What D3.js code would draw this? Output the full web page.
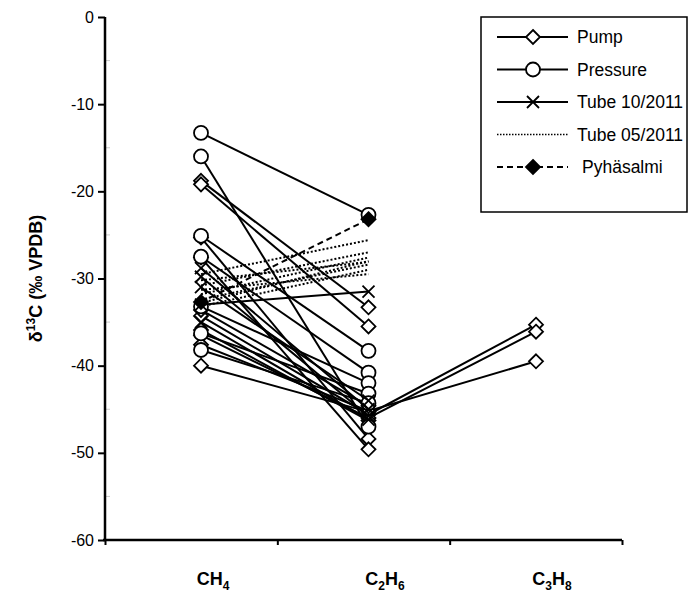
<!DOCTYPE html>
<html>
<head>
<meta charset="utf-8">
<script src="https://cdn.jsdelivr.net/npm/d3@7"></script>
<style>
  body { margin: 0; background: #fff; }
  svg { display: block; font-family: "Liberation Sans", Arial, sans-serif; }
</style>
</head>
<body>
<div id="chart"></div>
<script>
const width = 689, height = 592;

// categories (x) and y ticks
const categories = ["CH4", "C2H6", "C3H8"];
const yTicks = [0, -10, -20, -30, -40, -50, -60];

// series values: [CH4, C2H6, C3H8]
const pump = [
  [-18.8, -33.3, null],
  [-19.2, -35.5, null],
  [-25.3, -48.4, null],
  [-27.6, -49.6, null],
  [-40.0, -45.3, null],
  [-34.3, -45.6, -35.3],
  [-36.5, -46.0, -36.1],
  [-37.6, -45.2, -39.5],
  [-33.6, -44.6, null],
  [-35.9, -46.3, null]
];
const pressure = [
  [-13.3, -22.7, null],
  [-16.0, -47.0, null],
  [-25.1, -38.3, null],
  [-27.5, -40.8, null],
  [-33.2, -42.0, null],
  [-36.3, -43.2, null],
  [-38.2, -44.3, null]
];
const tube1011 = [
  [-33.0, -31.5, null],
  [-28.8, -45.0, null],
  [-31.0, -44.0, null],
  [-29.8, -45.8, null],
  [-35.0, -46.2, null]
];
const tube0511 = [
  [-29.5, -25.6, null],
  [-30.8, -27.0, null],
  [-31.8, -27.6, null],
  [-30.2, -28.1, null],
  [-32.4, -28.4, null],
  [-33.2, -29.0, null],
  [-31.3, -29.5, null],
  [-32.8, -28.0, null]
];
const pyhasalmi = [
  [-32.7, -23.2, null]
];

const legendNames = ["Pump", "Pressure", "Tube 10/2011", "Tube 05/2011", "Pyhäsalmi"];

const svg = d3.select("#chart").append("svg")
  .attr("width", width)
  .attr("height", height);

svg.append("rect").attr("width", width).attr("height", height).attr("fill", "#fff");

// scales
const x = d3.scalePoint().domain(categories).range([201, 536]);
const xEdge = d3.scaleLinear().domain([0, 3]).range([105, 622]);
const y = d3.scaleLinear().domain([-60, 0]).range([540, 17]);

// minor ticks on y
svg.append("g")
  .selectAll("line")
  .data(d3.range(-55, 0, 10))
  .join("line")
  .attr("x1", 105).attr("x2", 110)
  .attr("y1", d => y(d)).attr("y2", d => y(d))
  .attr("stroke", "#ccc");

// y axis
const yAxis = svg.append("g")
  .attr("transform", "translate(105,0)")
  .call(d3.axisLeft(y).tickValues(yTicks).tickSize(7).tickPadding(4).tickFormat(d => String(d)));
yAxis.select(".domain").attr("stroke-width", 2.5).attr("d", `M0,${y(0)}V${y(-60)}`);
yAxis.selectAll(".tick line").attr("stroke-width", 2);
yAxis.selectAll(".tick text").attr("font-size", 16).attr("font-family", "Liberation Sans, Arial, sans-serif").attr("fill", "#000");

// x axis (ticks at category boundaries)
const xAxis = svg.append("g")
  .attr("transform", "translate(0,540)")
  .call(d3.axisBottom(xEdge).tickValues([0, 1, 2, 3]).tickSize(5).tickFormat(""));
xAxis.select(".domain").attr("stroke-width", 2.5).attr("d", "M103,0H622");
xAxis.selectAll(".tick line").attr("stroke-width", 2);

// category labels with subscripts
const labelParts = {
  CH4: [["CH", 0], ["4", 1]],
  C2H6: [["C", 0], ["2", 1], ["H", -1], ["6", 1]],
  C3H8: [["C", 0], ["3", 1], ["H", -1], ["8", 1]]
};
const labelX = { CH4: 213, C2H6: 385, C3H8: 552 };
categories.forEach(c => {
  const t = svg.append("text")
    .attr("x", labelX[c])
    .attr("y", 585)
    .attr("text-anchor", "middle")
    .attr("font-weight", "bold")
    .attr("font-size", 18);
  labelParts[c].forEach(([s, shift]) => {
    t.append("tspan")
      .attr("font-size", shift === 1 ? 12 : 18)
      .attr("dy", shift * 5)
      .text(s);
  });
});

// y axis title
const title = svg.append("text")
  .attr("transform", `translate(42,${y(-30)}) rotate(-90)`)
  .attr("text-anchor", "middle")
  .attr("font-weight", "bold")
  .attr("font-size", 18);
title.append("tspan").text("δ");
title.append("tspan").attr("font-size", 12).attr("dy", -7).text("13");
title.append("tspan").attr("dy", 7).text("C (‰ VPDB)");

// markers
const diamondPath = "M0,-7L7,0L0,7L-7,0Z";
const crossPath = "M-6,-6L6,6M-6,6L6,-6";

const line = d3.line()
  .defined(d => d.v !== null)
  .x(d => x(d.c))
  .y(d => y(d.v));

function toPoints(row) {
  return row.map((v, i) => ({ c: categories[i], v: v }));
}

function drawMarker(g, kind, px, py) {
  const m = g.append("path")
    .attr("transform", `translate(${px},${py})`)
    .attr("stroke", "#000")
    .attr("stroke-width", 1.8);
  if (kind === "diamond") m.attr("d", diamondPath).attr("fill", "#fff");
  if (kind === "fdiamond") m.attr("d", diamondPath).attr("fill", "#000");
  if (kind === "circle") m.attr("d", d3.symbol(d3.symbolCircle, Math.PI * 49)()).attr("fill", "#fff");
  if (kind === "cross") m.attr("d", crossPath).attr("fill", "none");
}

function drawSeries(data, opts) {
  const g = svg.append("g");
  data.forEach(row => {
    g.append("path")
      .attr("d", line(toPoints(row)))
      .attr("fill", "none")
      .attr("stroke", "#000")
      .attr("stroke-width", 2)
      .attr("stroke-dasharray", opts.dash || null);
  });
  if (!opts.marker) return;
  data.forEach(row => {
    toPoints(row).filter(d => d.v !== null).forEach(d => {
      drawMarker(g, opts.marker, x(d.c), y(d.v));
    });
  });
}

drawSeries(tube0511, { dash: "2,2" });
drawSeries(pump, { marker: "diamond" });
drawSeries(pressure, { marker: "circle" });
drawSeries(tube1011, { marker: "cross" });
drawSeries(pyhasalmi, { dash: "6,4", marker: "fdiamond" });

// legend
const legend = svg.append("g");
legend.append("rect")
  .attr("x", 481).attr("y", 17).attr("width", 206).attr("height", 195)
  .attr("fill", "#fff").attr("stroke", "#000").attr("stroke-width", 1.5);

const legendStyles = [
  { marker: "diamond" }, { marker: "circle" }, { marker: "cross" },
  { dash: "1.5,1.5", thin: true }, { dash: "6,4", marker: "fdiamond" }
];
legendNames.forEach((name, i) => {
  const ly = 37 + i * 32.5;
  legend.append("line")
    .attr("x1", 497).attr("x2", 568).attr("y1", ly).attr("y2", ly)
    .attr("stroke", "#000")
    .attr("stroke-width", legendStyles[i].thin ? 1.5 : 2)
    .attr("stroke-dasharray", legendStyles[i].dash || null);
  if (legendStyles[i].marker) drawMarker(legend, legendStyles[i].marker, 533, ly);
  legend.append("text")
    .attr("x", i === 4 ? 582 : 577)
    .attr("y", ly + 6)
    .attr("font-size", 17.5)
    .text(name);
});
</script>
</body>
</html>
